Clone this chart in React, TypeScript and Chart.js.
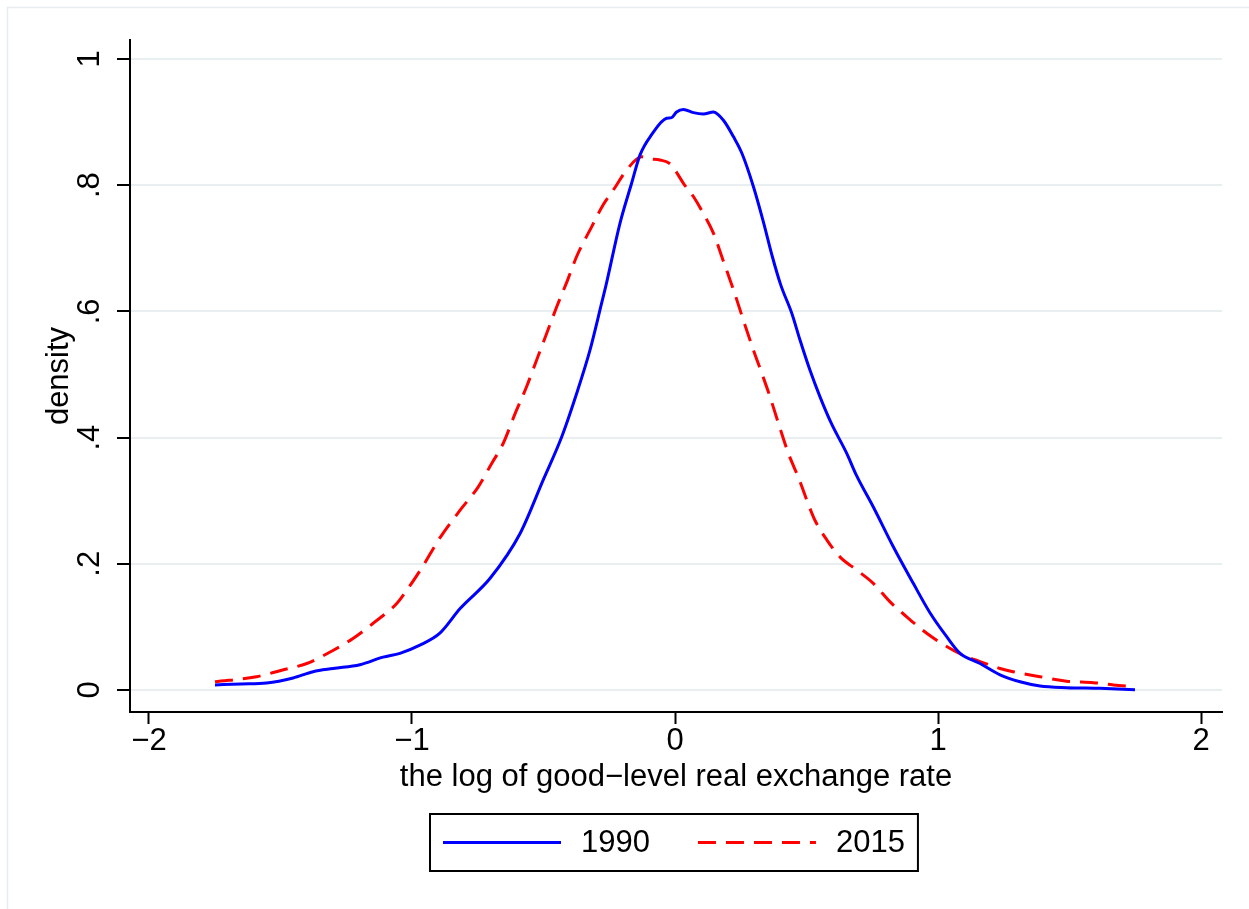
import React, { useEffect, useRef } from 'react';
import { Chart, registerables } from 'chart.js';

Chart.register(...registerables);

const FONT = "'Liberation Sans', Arial, Helvetica, sans-serif";

const seriesLabels = ['1990', '2015'];
const seriesColors = ['rgb(0,0,255)', 'rgb(255,0,0)'];

const x1990 = [
  -1.749, -1.65, -1.553, -1.452, -1.376, -1.3, -1.198, -1.11, -1.046, -0.97, -0.894, -0.817,
  -0.703, -0.589, -0.501, -0.431, -0.374, -0.323, -0.279, -0.262, -0.209, -0.165, -0.133,
  -0.089, -0.032, -0.013, 0.006, 0.032, 0.07, 0.108, 0.146, 0.184, 0.222, 0.254, 0.298,
  0.336, 0.37, 0.402, 0.444, 0.475, 0.513, 0.551, 0.595, 0.653, 0.69, 0.754, 0.83, 0.906,
  0.97, 1.033, 1.084, 1.16, 1.236, 1.312, 1.388, 1.489, 1.616, 1.749,
];
const y1990 = [
  0.008, 0.0095, 0.011, 0.019, 0.029, 0.034, 0.04, 0.052, 0.058, 0.071, 0.09, 0.129,
  0.177, 0.248, 0.333, 0.401, 0.47, 0.539, 0.613, 0.642, 0.74, 0.803, 0.848,
  0.88, 0.906, 0.907, 0.916, 0.92, 0.915, 0.913, 0.916, 0.903, 0.877, 0.851, 0.798,
  0.742, 0.687, 0.642, 0.597, 0.555, 0.507, 0.465, 0.422, 0.375, 0.34, 0.29, 0.227, 0.169,
  0.122, 0.0845, 0.058, 0.042, 0.024, 0.013, 0.0063, 0.0037, 0.0026, 0.0005,
];

const x2015 = [
  -1.749, -1.591, -1.489, -1.4, -1.299, -1.223, -1.147, -1.058, -1.02, -0.965, -0.894,
  -0.817, -0.748, -0.697, -0.653, -0.608, -0.564, -0.526, -0.488, -0.45, -0.408, -0.374,
  -0.317, -0.273, -0.235, -0.184, -0.127, -0.101, -0.057, -0.019, 0.0, 0.032, 0.07, 0.108,
  0.146, 0.187, 0.225, 0.26, 0.298, 0.33, 0.361, 0.393, 0.431, 0.472, 0.501, 0.532, 0.577,
  0.627, 0.691, 0.754, 0.817, 0.881, 0.957, 1.033, 1.096, 1.16, 1.236, 1.285, 1.388, 1.489,
  1.591, 1.667, 1.749,
];
const y2015 = [
  0.013, 0.021, 0.032, 0.042, 0.063, 0.082, 0.106, 0.137, 0.158, 0.192, 0.241,
  0.285, 0.322, 0.359, 0.391, 0.438, 0.481, 0.523, 0.565, 0.607, 0.65, 0.687,
  0.734, 0.769, 0.792, 0.824, 0.845, 0.842, 0.84, 0.834, 0.824, 0.803, 0.782, 0.755,
  0.724, 0.676, 0.631, 0.586, 0.539, 0.502, 0.465, 0.423, 0.375, 0.334, 0.301, 0.269, 0.238,
  0.211, 0.19, 0.169, 0.14, 0.116, 0.09, 0.069, 0.055, 0.045, 0.034, 0.029, 0.021, 0.014,
  0.0116, 0.008, 0.0053,
];

const xTickValues = [-2, -1, 0, 1, 2];
const xTickLabels = ['\u22122', '\u22121', '0', '1', '2'];
const yTickValues = [0, 0.2, 0.4, 0.6, 0.8, 1];
const yTickLabels = ['0', '.2', '.4', '.6', '.8', '1'];
const xAxisTitle = 'the log of good\u2212level real exchange rate';
const yAxisTitle = 'density';

const toPoints = (xs: number[], ys: number[]) => xs.map((x, i) => ({ x, y: ys[i] }));

const framePlugin = {
  id: 'stataFrame',
  beforeDraw(chart: any) {
    const ctx = chart.ctx;
    ctx.save();
    ctx.fillStyle = '#ffffff';
    ctx.fillRect(0, 0, chart.width, chart.height);
    ctx.strokeStyle = '#e6ecef';
    ctx.lineWidth = 1.5;
    ctx.beginPath();
    ctx.moveTo(7.5, chart.height);
    ctx.lineTo(7.5, 7.5);
    ctx.lineTo(chart.width, 7.5);
    ctx.stroke();
    ctx.restore();
  },
};

const boxLegendPlugin = {
  id: 'boxLegend',
  afterDraw(chart: any) {
    const ctx = chart.ctx;
    const ds = chart.data.datasets;
    ctx.save();
    ctx.font = `31px ${FONT}`;
    const lineLen = 118;
    const padX = 13;
    const gapText = 20;
    const gapItem = 48;
    const widths = ds.map((d: any) => ctx.measureText(d.label).width);
    let total = padX * 2 + gapItem * (ds.length - 1);
    ds.forEach((_: any, i: number) => { total += lineLen + gapText + widths[i]; });
    const cx = (chart.chartArea.left + chart.chartArea.right) / 2 - 2;
    const left = Math.round(cx - total / 2);
    const top = 814;
    const h = 57;
    const mid = top + h / 2;
    ctx.strokeStyle = '#000';
    ctx.lineWidth = 2;
    ctx.setLineDash([]);
    ctx.strokeRect(left, top, total, h);
    let x = left + padX;
    ds.forEach((d: any, i: number) => {
      ctx.beginPath();
      ctx.setLineDash(d.borderDash || []);
      ctx.strokeStyle = d.borderColor;
      ctx.lineWidth = 3;
      ctx.moveTo(x, mid);
      ctx.lineTo(x + lineLen, mid);
      ctx.stroke();
      ctx.setLineDash([]);
      x += lineLen + gapText;
      ctx.fillStyle = '#000';
      ctx.textAlign = 'left';
      ctx.textBaseline = 'middle';
      ctx.fillText(d.label, x, mid + 1);
      x += widths[i] + gapItem;
    });
    ctx.restore();
  },
};

export default function App() {
  const canvasRef = useRef<HTMLCanvasElement | null>(null);

  useEffect(() => {
    if (!canvasRef.current) return;
    Chart.defaults.font.family = FONT;
    Chart.defaults.font.size = 31;
    Chart.defaults.color = '#000';
    const chart = new Chart(canvasRef.current, {
      type: 'line',
      data: {
        datasets: [
          {
            label: seriesLabels[0],
            data: toPoints(x1990, y1990),
            borderColor: seriesColors[0],
            borderWidth: 3,
            pointRadius: 0,
            fill: false,
            cubicInterpolationMode: 'monotone',
          },
          {
            label: seriesLabels[1],
            data: toPoints(x2015, y2015),
            borderColor: seriesColors[1],
            borderWidth: 3,
            borderDash: [18, 10],
            pointRadius: 0,
            fill: false,
            cubicInterpolationMode: 'monotone',
          },
        ],
      },
      options: {
        responsive: false,
        animation: false,
        layout: { padding: { left: 0, top: 40, right: 27, bottom: 107 } },
        plugins: {
          legend: { display: false },
          tooltip: { enabled: false },
        },
        scales: {
          x: {
            type: 'linear',
            min: -2.0722,
            max: 2.0798,
            afterBuildTicks: (s: any) => {
              s.ticks = xTickValues.map((v) => ({ value: v }));
            },
            afterFit: (s: any) => {
              s.height = 90;
            },
            ticks: {
              autoSkip: false,
              maxRotation: 0,
              padding: -1,
              color: '#000',
              font: { size: 31, family: FONT },
              callback: (v: any) => {
                const i = xTickValues.indexOf(Number(v));
                return i >= 0 ? xTickLabels[i] : '';
              },
            },
            grid: {
              drawOnChartArea: false,
              drawTicks: true,
              tickLength: 12,
              tickColor: '#000',
              tickWidth: 2,
              color: '#000',
            },
            border: { display: true, color: '#000', width: 2 },
            title: {
              display: true,
              text: xAxisTitle,
              color: '#000',
              font: { size: 31, family: FONT },
              padding: { top: 0, bottom: 6 },
            },
          },
          y: {
            type: 'linear',
            min: -0.0349,
            max: 1.0301,
            afterBuildTicks: (s: any) => {
              s.ticks = yTickValues.map((v) => ({ value: v }));
            },
            afterFit: (s: any) => {
              s.width = 130;
            },
            ticks: {
              autoSkip: false,
              minRotation: 90,
              maxRotation: 90,
              crossAlign: 'center',
              padding: 14,
              color: '#000',
              font: { size: 31, family: FONT },
              callback: (v: any) => {
                const i = yTickValues.indexOf(Number(v));
                return i >= 0 ? yTickLabels[i] : '';
              },
            },
            grid: {
              drawOnChartArea: true,
              color: '#e9eff1',
              lineWidth: 2,
              drawTicks: true,
              tickLength: 13,
              tickColor: '#000',
              tickWidth: 2,
            },
            border: { display: true, color: '#000', width: 2 },
            title: {
              display: true,
              text: yAxisTitle,
              color: '#000',
              font: { size: 31, family: FONT },
              padding: { top: 41, bottom: 0 },
            },
          },
        },
      } as any,
      plugins: [framePlugin, boxLegendPlugin],
    });
    return () => chart.destroy();
  }, []);

  return (
    <div style={{ position: 'absolute', left: 0, top: 0, width: 1249, height: 909 }}>
      <canvas ref={canvasRef} width={1249} height={909} style={{ width: 1249, height: 909, display: 'block' }} />
    </div>
  );
}
